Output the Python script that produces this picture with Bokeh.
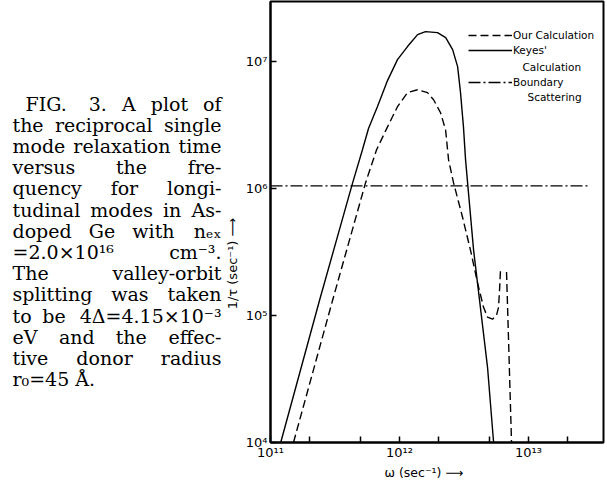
from bokeh.plotting import figure
from bokeh.models import (Range1d, FixedTicker, CustomJSTickFormatter, Label,
                          Legend, LegendItem, Title)
from bokeh.layouts import row
from bokeh.embed import file_html
from bokeh.resources import INLINE

# ---------------- data ----------------
omega_keyes = [1.20e11, 2.40e11, 4.33e11, 5.16e11, 5.75e11, 6.75e11, 8.07e11,
               9.64e11, 1.153e12, 1.38e12, 1.59e12, 1.97e12, 2.28e12, 2.58e12,
               2.82e12, 2.97e12, 3.13e12, 3.25e12, 3.37e12, 3.75e12, 4.17e12,
               4.81e12, 5.36e12]
rate_keyes = [1.0e4, 1.32e5, 1.107e6, 2.02e6, 2.97e6, 4.43e6, 7.08e6,
              1.035e7, 1.312e7, 1.63e7, 1.72e7, 1.69e7, 1.545e7, 1.24e7,
              9.12e6, 5.69e6, 3.06e6, 1.68e6, 1.107e6, 3.27e5, 1.32e5,
              3.91e4, 1.0e4]

nan = float("nan")
omega_ours = [1.507e11, 3.03e11, 5.45e11, 6.64e11, 8.07e11, 9.64e11, 1.153e12,
              1.38e12, 1.648e12, 1.837e12, 2.08e12, 2.275e12, 2.40e12,
              2.624e12, 3.076e12, 3.548e12, 4.03e12, 4.48e12, 4.81e12,
              5.26e12, 5.65e12, 5.85e12, 5.96e12, 6.07e12, nan,
              6.75e12, 7.00e12, 7.38e12]
rate_ours = [1.0e4, 1.32e5, 1.107e6, 2.02e6, 3.06e6, 4.41e6, 5.69e6,
             6.0e6, 5.69e6, 5.0e6, 3.95e6, 2.90e6, 1.68e6,
             1.107e6, 5.97e5, 3.27e5, 1.80e5, 1.16e5, 9.7e4,
             9.35e4, 1.005e5, 1.16e5, 1.585e5, 2.36e5, nan,
             2.2e5, 6.38e4, 1.0e4]

omega_boundary = [1.0e11, 2.9e13]
rate_boundary = [1.05e6, 1.05e6]

x_ticks = [1e11, 2e11, 5e11, 1e12, 2e12, 5e12, 1e13, 2e13]
x_tick_labels = ["10\u00b9\u00b9", "", "", "10\u00b9\u00b2", "", "", "10\u00b9\u00b3", ""]
y_ticks = [1e4, 1e5, 1e6, 1e7]
y_tick_labels = ["10\u2074", "10\u2075", "10\u2076", "10\u2077"]

legend_labels = ["Our Calculation", "Keyes'", "Boundary"]
legend_extra = ["Calculation", "Scattering"]
x_label = "\u03c9  (sec\u207b\u00b9) \u27f6"
y_label = "1/\u03c4  (sec\u207b\u00b9) \u27f6"

caption_lines = [
    "FIG. 3. A plot of",
    "the reciprocal single",
    "mode relaxation time",
    "versus the fre-",
    "quency for longi-",
    "tudinal modes in As-",
    "doped Ge with n\u2091\u2093",
    "=2.0\u00d710\u00b9\u2076 cm\u207b\u00b3.",
    "The valley-orbit",
    "splitting was taken",
    "to be 4\u0394=4.15\u00d710\u207b\u00b3",
    "eV and the effec-",
    "tive donor radius",
    "r\u2080=45 \u00c5.",
]

# ---------------- main chart ----------------
LEFT_W = 240
W, H = 367, 483
BORDER_TOP, BORDER_BOTTOM = 1, 41
FRAME_BOTTOM = H - BORDER_BOTTOM
p = figure(width=W, height=H, x_axis_type="log", y_axis_type="log",
           x_range=Range1d(1e11, 3.81e13), y_range=Range1d(1e4, 2.97e7),
           output_backend="svg", toolbar_location=None,
           min_border_left=30, min_border_right=4, min_border_top=BORDER_TOP,
           min_border_bottom=BORDER_BOTTOM)
p.background_fill_color = "white"
p.border_fill_color = "white"
p.outline_line_color = "black"
p.outline_line_width = 2
p.xgrid.visible = False
p.ygrid.visible = False

for ax in (p.xaxis[0], p.yaxis[0]):
    ax.axis_line_width = 2
    ax.axis_line_color = "black"
    ax.major_tick_in = 6
    ax.major_tick_out = 0
    ax.minor_tick_line_color = None
    ax.major_tick_line_width = 1.5
    ax.major_label_text_font = "DejaVu Sans"
    ax.major_label_text_font_size = "13px"
    ax.major_label_text_color = "black"

fmt_code = """
let best = 0; let bd = Infinity;
for (let i = 0; i < tvals.length; i++) {
  const d = Math.abs(Math.log10(tick) - Math.log10(tvals[i]));
  if (d < bd) { bd = d; best = i; }
}
return tlabels[best];
"""
p.xaxis[0].ticker = FixedTicker(ticks=x_ticks)
p.xaxis[0].formatter = CustomJSTickFormatter(args=dict(tvals=x_ticks, tlabels=x_tick_labels), code=fmt_code)
p.xaxis[0].major_label_standoff = 2
p.yaxis[0].ticker = FixedTicker(ticks=y_ticks)
p.yaxis[0].formatter = CustomJSTickFormatter(args=dict(tvals=y_ticks, tlabels=y_tick_labels), code=fmt_code)
p.yaxis[0].major_label_standoff = 3

r_ours = p.line(omega_ours, rate_ours, line_color="black", line_width=1.4,
                line_dash="8 4")
r_keyes = p.line(omega_keyes, rate_keyes, line_color="black", line_width=1.4)
r_bound = p.line(omega_boundary, rate_boundary, line_color="black",
                 line_width=1.4, line_dash="12 3 2 3")

# legend (frame-relative screen px)
leg_pos = [(198, 400), (198, 385), (198, 353)]
for lab, rend, pos in zip(legend_labels, [r_ours, r_keyes, r_bound], leg_pos):
    leg = Legend(items=[LegendItem(label=lab, renderers=[rend])], location=pos,
                 glyph_width=44, glyph_height=14, label_height=14,
                 label_standoff=1, padding=0, margin=0, spacing=0,
                 border_line_alpha=0, background_fill_alpha=0,
                 label_text_font="DejaVu Sans", label_text_font_size="10.5px",
                 label_text_color="black")
    p.add_layout(leg)

for txt, (lx, ly) in zip(legend_extra, [(252, 376), (257, 346)]):
    p.add_layout(Label(x=lx, y=ly, x_units="screen", y_units="screen", text=txt,
                       text_font="DejaVu Sans", text_font_size="10.5px",
                       text_align="left", text_baseline="middle",
                       text_color="black"))

# x axis title below the axis
p.add_layout(Title(text=x_label, align="left", offset=114,
                   text_font="DejaVu Sans", text_font_size="12.5px",
                   text_font_style="normal", text_color="black",
                   standoff=0), "below")

# ---------------- caption panel ----------------
c = figure(width=LEFT_W, height=H, x_range=Range1d(0, 1), y_range=Range1d(0, 1),
           output_backend="svg", toolbar_location=None,
           x_axis_location=None, y_axis_location=None,
           min_border_left=0, min_border_right=0,
           min_border_top=BORDER_TOP, min_border_bottom=BORDER_BOTTOM)
c.outline_line_color = None
c.xgrid.visible = False
c.ygrid.visible = False
c.background_fill_color = "white"
c.border_fill_color = "white"

# y axis title (rotated); page y -> frame-relative y
c.add_layout(Label(x=232, y=FRAME_BOTTOM - 261, x_units="screen", y_units="screen",
                   text=y_label, text_font="DejaVu Sans", text_font_size="13px",
                   angle=1.5708, text_align="center", text_baseline="middle",
                   text_color="black"))

CW = {'a': .596, 'b': .640, 'c': .560, 'd': .640, 'e': .592, 'f': .370, 'g': .640,
      'h': .644, 'i': .320, 'j': .310, 'k': .605, 'l': .320, 'm': .948, 'n': .644,
      'o': .602, 'p': .640, 'q': .640, 'r': .478, 's': .513, 't': .402, 'u': .644,
      'v': .565, 'w': .856, 'x': .564, 'y': .565, 'z': .527, '.': .318, '-': .338,
      '=': .838, '\u00d7': .838, "'": .275}
FS = 19
def wwidth(w):
    s = 0.0
    for ch in w:
        if ch in CW:
            s += CW[ch]
        elif ch.isupper():
            s += 0.74
        elif ch.isdigit():
            s += 0.636
        else:
            s += 0.45
    return s * FS

for i, line in enumerate(caption_lines):
    py = 103 + 21.2 * i
    sy = FRAME_BOTTOM - py
    left = 25 if i == 0 else 12
    right = 221
    words = line.split(" ")
    if i == len(caption_lines) - 1 or len(words) == 1:
        c.add_layout(Label(x=left, y=sy, x_units="screen", y_units="screen",
                           text=line, text_font="DejaVu Serif",
                           text_font_size=f"{FS}px", text_align="left",
                           text_baseline="middle", text_color="black"))
        continue
    widths = [wwidth(w) for w in words]
    gap = (right - left - sum(widths)) / (len(words) - 1)
    xpos = left
    for j, (w, wd) in enumerate(zip(words, widths)):
        if j == 0:
            x, al = left, "left"
        elif j == len(words) - 1:
            x, al = right, "right"
        else:
            x, al = xpos + wd / 2, "center"
        c.add_layout(Label(x=x, y=sy, x_units="screen", y_units="screen",
                           text=w, text_font="DejaVu Serif",
                           text_font_size=f"{FS}px", text_align=al,
                           text_baseline="middle", text_color="black"))
        xpos += wd + gap

layout = row(c, p, spacing=0)
open("out.html", "w").write(file_html(layout, INLINE))
